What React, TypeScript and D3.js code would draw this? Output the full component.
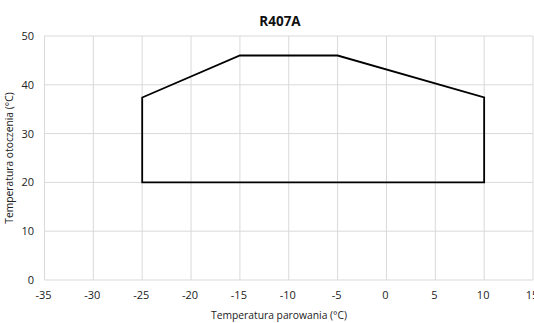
import React from "react";
import * as d3 from "d3";

const polyX = [-25, -25, -15, -5, 10, 10];
const polyY = [20, 37.4, 46, 46, 37.4, 20];
const xTicks = [-35, -30, -25, -20, -15, -10, -5, 0, 5, 10, 15];
const yTicks = [0, 10, 20, 30, 40, 50];
const title = "R407A";
const xTitle = "Temperatura parowania (°C)";
const yTitle = "Temperatura otoczenia (°C)";

export default function App() {
  const W = 534, H = 323;
  const x = d3.scaleLinear().domain([-35, 15]).range([44.5, 533]);
  const y = d3.scaleLinear().domain([0, 50]).range([280, 36]);
  const pts: [number, number][] = polyX.map((v, i) => [x(v), y(polyY[i])]);
  const line = d3.line().curve(d3.curveLinearClosed);
  const font = "'Open Sans', sans-serif";
  return (
    <div style={{ position: "fixed", left: 0, top: 0 }}>
      <svg width={W} height={H} style={{ display: "block", background: "#fff" }} fontFamily={font}>
        {xTicks.map((t) => (
          <line key={"gx" + t} x1={x(t)} x2={x(t)} y1={y(0)} y2={y(50)} stroke="#d9d9d9" strokeWidth={1} />
        ))}
        {yTicks.map((t) => (
          <line key={"gy" + t} x1={x(-35)} x2={x(15)} y1={y(t)} y2={y(t)} stroke="#d9d9d9" strokeWidth={1} />
        ))}
        <path d={line(pts) || ""} fill="none" stroke="#000" strokeWidth={1.8} strokeLinejoin="miter" />
        {xTicks.map((t) => (
          <text key={"tx" + t} x={x(t) - 1} y={299} textAnchor="middle" fontSize={11} fill="#222">
            {t}
          </text>
        ))}
        {yTicks.map((t) => (
          <text key={"ty" + t} x={34} y={y(t) + 4} textAnchor="end" fontSize={11} fill="#222">
            {t}
          </text>
        ))}
        <text x={280} y={26} textAnchor="middle" fontSize={13.5} fontWeight="bold" fill="#111">
          {title}
        </text>
        <text x={279} y={319} textAnchor="middle" fontSize={10.3} fill="#222">
          {xTitle}
        </text>
        <text transform={`translate(13,${(y(0) + y(50)) / 2}) rotate(-90)`} textAnchor="middle" fontSize={10.3} fill="#222">
          {yTitle}
        </text>
      </svg>
    </div>
  );
}
